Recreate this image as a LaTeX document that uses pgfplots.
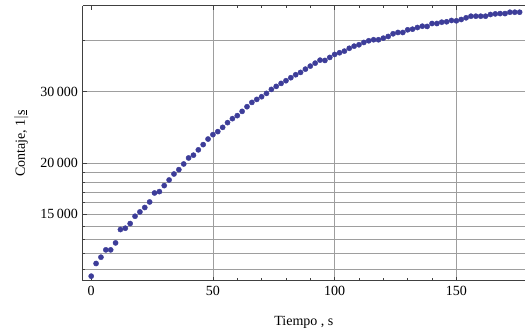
\documentclass[border=0pt]{standalone}
\usepackage{pgfplots}
\pgfplotsset{compat=1.18}
\usepackage{fontspec}
\setmainfont{Liberation Serif}
\definecolor{mblue}{rgb}{0.24,0.24,0.6}
\definecolor{gridc}{gray}{0.62}
\definecolor{framec}{gray}{0.25}
\pgfplotstableread{
t c
0 10578
2 11362
4 11772
6 12270
8 12270
10 12762
12 13762
14 13864
16 14234
18 14833
20 15202
22 15584
24 16080
26 16916
28 17046
30 17634
32 18206
34 18832
36 19300
38 19926
40 20612
42 20940
44 21580
46 22224
48 22934
50 23512
52 23916
54 24500
56 25158
58 25732
60 26172
62 26810
64 27528
66 28202
68 28686
70 29126
72 29676
74 30348
76 30870
78 31394
80 31876
82 32422
84 32972
86 33408
88 34030
90 34616
92 35202
94 35802
96 35740
98 36354
100 36972
102 37330
104 37668
106 38280
108 38744
110 39054
112 39562
114 39942
116 40166
118 40166
120 40528
122 40918
124 41544
126 41850
128 41850
130 42490
132 42636
134 43040
136 43358
138 43300
140 44022
142 44022
144 44350
146 44450
148 44780
150 44700
152 45030
154 45462
156 45874
158 45874
160 45874
162 45874
164 46316
166 46480
168 46560
170 46560
172 46916
174 46916
176 46916
}\datatable
\begin{document}
\fontsize{14}{16}\selectfont
\begin{tikzpicture}
\begin{axis}[
  scale only axis,
  width=442.3pt, height=275.3pt,
  ymode=log,
  xmin=-3.5, xmax=178.2,
  ymin=10294, ymax=48684,
  axis x line*=box,
  axis y line*=left,
  axis line style={framec, line width=1pt},
  xtick={50,100,150},
  extra x ticks={0},
  extra x tick style={grid=none},
  minor x tick num=4,
  ytick={15000,20000,30000},
  yticklabels={15\,000,20\,000,30\,000},
  minor ytick={11000,12000,13000,14000,16000,17000,18000,19000,40000},
  xmajorgrids, ymajorgrids, yminorgrids,
  major grid style={gridc, line width=0.8pt},
  minor grid style={gridc, line width=0.8pt},
  tick align=inside,
  major tick length=4pt,
  minor tick length=2.5pt,
  every tick/.style={framec, line width=0.8pt},
  /pgf/number format/assume math mode=true,
  tick label style={font=\fontsize{14}{16}\selectfont},
  label style={font=\fontsize{14}{16}\selectfont},
  xlabel={Tiempo , s},
  ylabel={Contaje, 1$|$\underline{s}},
  xlabel style={at={(axis description cs:0.5,-0.149)}, anchor=center},
  ylabel style={at={(axis description cs:-0.139,0.5)}, anchor=center},
  clip=false,
]
\addplot[mblue, only marks, mark=*, mark size=2.6pt, mark options={draw=none, fill=mblue}] table[x=t, y=c] {\datatable};
\end{axis}
\pgfresetboundingbox
\path[use as bounding box] ([xshift=-82.7pt,yshift=-51pt]current axis.south west) rectangle ([yshift=5.7pt]current axis.north east);
\end{tikzpicture}
\end{document}
